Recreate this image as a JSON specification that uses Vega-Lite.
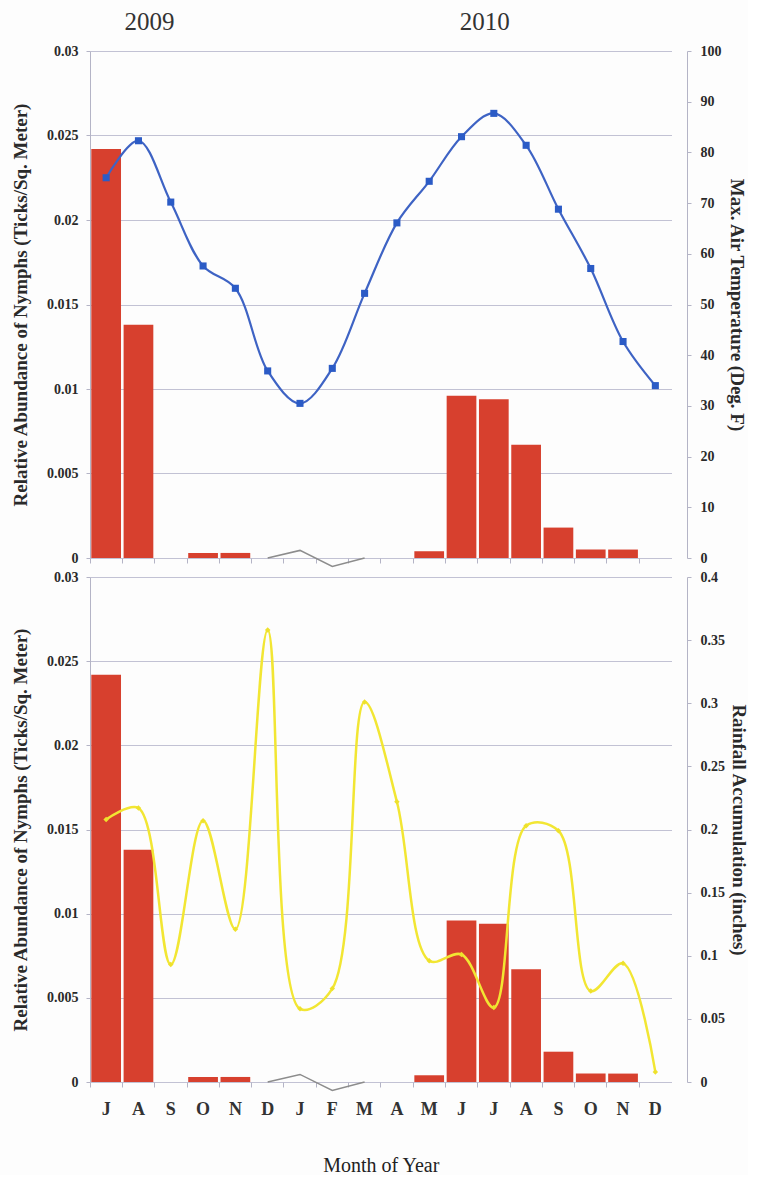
{
  "$schema": "https://vega.github.io/schema/vega-lite/v6.json",
  "background": "#fdfdfd",
  "padding": {"left": 11, "right": 0, "top": 10, "bottom": 0},
  "spacing": 0,
  "config": {
    "view": {"stroke": null},
    "font": "Liberation Serif",
    "axis": {
      "labelFont": "Liberation Serif",
      "labelFontWeight": "bold",
      "labelFontSize": 14,
      "labelColor": "#2a2a2a",
      "titleFont": "Liberation Serif",
      "titleFontWeight": "bold",
      "titleFontSize": 19,
      "titleColor": "#2a2a2a",
      "domainColor": "#b4b4c6",
      "tickColor": "#b4b4c6",
      "gridColor": "#c2c2d4",
      "tickSize": 4,
      "labelPadding": 8
    }
  },
  "datasets": {
    "d": [
      {"m": "Jul 2009", "nymphs": 0.0242, "temp": 75.0, "rain": 0.208},
      {"m": "Aug 2009", "nymphs": 0.0138, "temp": 82.3, "rain": 0.217},
      {"m": "Sep 2009", "nymphs": 0, "temp": 70.2, "rain": 0.093},
      {"m": "Oct 2009", "nymphs": 0.0003, "temp": 57.6, "rain": 0.207},
      {"m": "Nov 2009", "nymphs": 0.0003, "temp": 53.2, "rain": 0.121},
      {"m": "Dec 2009", "nymphs": 0, "temp": 36.9, "rain": 0.358},
      {"m": "Jan 2010", "nymphs": 0, "temp": 30.5, "rain": 0.058},
      {"m": "Feb 2010", "nymphs": 0, "temp": 37.4, "rain": 0.074},
      {"m": "Mar 2010", "nymphs": 0, "temp": 52.2, "rain": 0.301},
      {"m": "Apr 2010", "nymphs": 0, "temp": 66.1, "rain": 0.222},
      {"m": "May 2010", "nymphs": 0.0004, "temp": 74.3, "rain": 0.096},
      {"m": "Jun 2010", "nymphs": 0.0096, "temp": 83.1, "rain": 0.101},
      {"m": "Jul 2010", "nymphs": 0.0094, "temp": 87.7, "rain": 0.059},
      {"m": "Aug 2010", "nymphs": 0.0067, "temp": 81.4, "rain": 0.203},
      {"m": "Sep 2010", "nymphs": 0.0018, "temp": 68.8, "rain": 0.199},
      {"m": "Oct 2010", "nymphs": 0.0005, "temp": 57.1, "rain": 0.072},
      {"m": "Nov 2010", "nymphs": 0.0005, "temp": 42.7, "rain": 0.094},
      {"m": "Dec 2010", "nymphs": 0, "temp": 34.0, "rain": 0.008}
    ],
    "g": [
      {"m": "Dec 2009", "v": 0},
      {"m": "Jan 2010", "v": 0.00045},
      {"m": "Feb 2010", "v": -0.0005},
      {"m": "Mar 2010", "v": 0}
    ]
  },
  "vconcat": [
    {
      "width": 597,
      "height": 507,
      "resolve": {"scale": {"y": "independent"}},
      "layer": [
        {
          "layer": [
            {
              "data": {"name": "d"},
              "mark": {"type": "bar", "color": "#D7402E"},
              "encoding": {
                "x": {
                  "field": "m", "type": "nominal",
                  "scale": {
                    "domain": ["Jul 2009","Aug 2009","Sep 2009","Oct 2009","Nov 2009","Dec 2009","Jan 2010","Feb 2010","Mar 2010","Apr 2010","May 2010","Jun 2010","Jul 2010","Aug 2010","Sep 2010","Oct 2010","Nov 2010","Dec 2010"],
                    "range": [0, 581.5], "paddingInner": 0.08, "paddingOuter": 0.04
                  },
                  "axis": {"title": null, "labels": false, "ticks": true, "tickSize": 5, "domain": false, "grid": false, "bandPosition": -0.04}
                },
                "y": {
                  "field": "nymphs", "type": "quantitative",
                  "scale": {"domain": [0, 0.03], "nice": false},
                  "title": "Relative Abundance of Nymphs (Ticks/Sq.  Meter)",
                  "axis": {"values": [0, 0.005, 0.01, 0.015, 0.02, 0.025, 0.03], "format": "~g", "grid": true, "titlePadding": 16}
                }
              }
            },
            {
              "data": {"name": "g"},
              "mark": {"type": "line", "color": "#8c8c8c", "strokeWidth": 1.5},
              "encoding": {
                "x": {"field": "m", "type": "nominal"},
                "y": {"field": "v", "type": "quantitative", "title": "Relative Abundance of Nymphs (Ticks/Sq.  Meter)"}
              }
            },
            {
              "data": {"values": [{"m": "Aug 2009", "yr": "2009"}]},
              "mark": {"type": "text", "fontSize": 25, "dx": 11, "color": "#333333", "font": "Liberation Serif"},
              "encoding": {
                "x": {"field": "m", "type": "nominal"},
                "y": {"datum": 0.0317},
                "text": {"field": "yr"}
              }
            },
            {
              "data": {"values": [{"m": "Jul 2010", "yr": "2010"}]},
              "mark": {"type": "text", "fontSize": 25, "dx": -9, "color": "#333333", "font": "Liberation Serif"},
              "encoding": {
                "x": {"field": "m", "type": "nominal"},
                "y": {"datum": 0.0317},
                "text": {"field": "yr"}
              }
            }
          ]
        },
        {
          "layer": [
            {
              "data": {"name": "d"},
              "mark": {"type": "line", "color": "#3E63C4", "strokeWidth": 2.2, "interpolate": "catmull-rom"},
              "encoding": {
                "x": {"field": "m", "type": "nominal"},
                "y": {
                  "field": "temp", "type": "quantitative",
                  "scale": {"domain": [0, 100], "nice": false},
                  "title": "Max. Air Temperature (Deg. F)",
                  "axis": {"orient": "right", "values": [0,10,20,30,40,50,60,70,80,90,100], "grid": false, "labelPadding": 9, "titlePadding": 5}
                }
              }
            },
            {
              "data": {"name": "d"},
              "mark": {"type": "point", "shape": "square", "filled": true, "size": 50, "color": "#2B5BC6", "opacity": 1},
              "encoding": {
                "x": {"field": "m", "type": "nominal"},
                "y": {"field": "temp", "type": "quantitative", "title": "Max. Air Temperature (Deg. F)"}
              }
            }
          ]
        }
      ]
    },
    {
      "width": 597,
      "height": 505,
      "resolve": {"scale": {"y": "independent"}},
      "layer": [
        {
          "layer": [
            {
              "data": {"name": "d"},
              "mark": {"type": "bar", "color": "#D7402E"},
              "encoding": {
                "x": {
                  "field": "m", "type": "nominal",
                  "scale": {
                    "domain": ["Jul 2009","Aug 2009","Sep 2009","Oct 2009","Nov 2009","Dec 2009","Jan 2010","Feb 2010","Mar 2010","Apr 2010","May 2010","Jun 2010","Jul 2010","Aug 2010","Sep 2010","Oct 2010","Nov 2010","Dec 2010"],
                    "range": [0, 581.5], "paddingInner": 0.08, "paddingOuter": 0.04
                  },
                  "title": "Month of Year",
                  "axis": {"labelExpr": "substring(datum.label, 0, 1)", "labelAngle": 0, "labelFontSize": 18, "labelPadding": 13, "labelColor": "#333333", "ticks": true, "tickSize": 5, "domain": false, "grid": false, "bandPosition": -0.04, "titleFontSize": 20, "titleFontWeight": "normal", "titlePadding": 37, "titleColor": "#222222"}
                },
                "y": {
                  "field": "nymphs", "type": "quantitative",
                  "scale": {"domain": [0, 0.03], "nice": false},
                  "title": "Relative Abundance of Nymphs (Ticks/Sq.  Meter)",
                  "axis": {"values": [0, 0.005, 0.01, 0.015, 0.02, 0.025, 0.03], "format": "~g", "grid": true, "titlePadding": 16}
                }
              }
            },
            {
              "data": {"name": "g"},
              "mark": {"type": "line", "color": "#8c8c8c", "strokeWidth": 1.5},
              "encoding": {
                "x": {"field": "m", "type": "nominal"},
                "y": {"field": "v", "type": "quantitative", "title": "Relative Abundance of Nymphs (Ticks/Sq.  Meter)"}
              }
            }
          ]
        },
        {
          "layer": [
            {
              "data": {"name": "d"},
              "mark": {"type": "line", "color": "#F2E633", "strokeWidth": 2.5, "interpolate": "catmull-rom"},
              "encoding": {
                "x": {"field": "m", "type": "nominal"},
                "y": {
                  "field": "rain", "type": "quantitative",
                  "scale": {"domain": [0, 0.4], "nice": false},
                  "title": "Rainfall Accumulation (inches)",
                  "axis": {"orient": "right", "values": [0,0.05,0.1,0.15,0.2,0.25,0.3,0.35,0.4], "format": "~g", "grid": false, "labelPadding": 9, "titlePadding": 4}
                }
              }
            },
            {
              "data": {"name": "d"},
              "mark": {"type": "point", "shape": "diamond", "filled": true, "size": 30, "color": "#EEE12C", "opacity": 1},
              "encoding": {
                "x": {"field": "m", "type": "nominal"},
                "y": {"field": "rain", "type": "quantitative", "title": "Rainfall Accumulation (inches)"}
              }
            }
          ]
        }
      ]
    }
  ]
}
